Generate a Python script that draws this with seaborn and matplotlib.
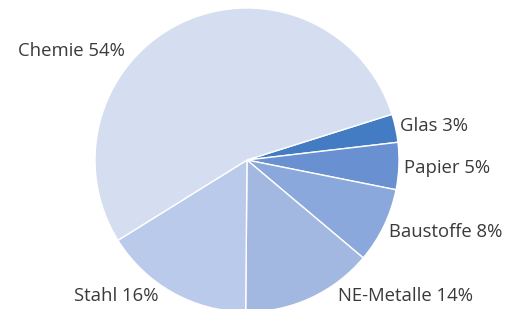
import matplotlib
matplotlib.use("Agg")
import matplotlib.pyplot as plt
import seaborn as sns

categories = ["Glas", "Papier", "Baustoffe", "NE-Metalle", "Stahl", "Chemie"]
values = [3, 5, 8, 14, 16, 54]
labels = [f"{c} {v}%" for c, v in zip(categories, values)]
colors = ["#447CC4", "#6990D1", "#8AA8DB", "#A3B8E1", "#BACAEA", "#D5DEF0"]

sns.set_theme(style="white")
plt.rcParams["font.family"] = ["Open Sans", "DejaVu Sans"]

W, H = 506, 309
fig = plt.figure(figsize=(W / 100, H / 100), dpi=100)
ax = fig.add_axes([0, 0, 1, 1])

R = 152.0
cx, cy = 247.0, 160.0  # pixel center (from top)

ax.pie(values, colors=colors, startangle=17.5, counterclock=False, radius=1.0,
       wedgeprops=dict(edgecolor="white", linewidth=1.0))
ax.set_aspect("auto")
ax.set_xlim(-cx / R, (W - cx) / R)
ax.set_ylim(-(H - cy) / R, cy / R)
ax.axis("off")

# label positions in pixels (anchor x, y center), alignment
label_pos = [
    (400, 126, "left"),
    (404, 168, "left"),
    (389, 232, "left"),
    (338, 296, "left"),
    (159, 296, "right"),
    (125, 51, "right"),
]
for lab, (px, py, ha) in zip(labels, label_pos):
    ax.text((px - cx) / R, (cy - py) / R, lab, ha=ha, va="center",
            fontsize=13.3, color="#3a3a3a")

fig.savefig("out.png", dpi=100, facecolor="white")
